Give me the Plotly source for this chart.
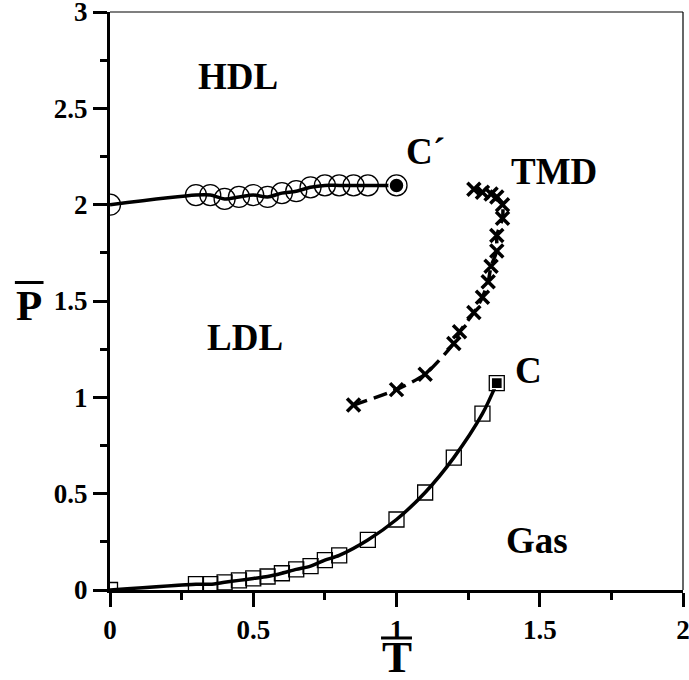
import plotly.graph_objects as go

# ---- data ----
hdl_T = [0.0, 0.30, 0.35, 0.40, 0.45, 0.50, 0.55, 0.60, 0.65, 0.70, 0.75, 0.80, 0.85, 0.90]
hdl_P = [2.00, 2.05, 2.05, 2.03, 2.04, 2.05, 2.04, 2.06, 2.07, 2.09, 2.10, 2.10, 2.10, 2.10]
cprime_T = [1.00]
cprime_P = [2.10]

gas_T = [0.0, 0.30, 0.35, 0.40, 0.45, 0.50, 0.55, 0.60, 0.65, 0.70, 0.75, 0.80, 0.90, 1.00, 1.10, 1.20, 1.30]
gas_P = [0.0, 0.03, 0.03, 0.04, 0.05, 0.06, 0.07, 0.087, 0.107, 0.124, 0.155, 0.18, 0.26, 0.366, 0.506, 0.687, 0.915]
c_T = [1.35]
c_P = [1.074]

tmd_T = [0.85, 1.00, 1.10, 1.20, 1.22, 1.27, 1.30, 1.32, 1.33, 1.35, 1.35, 1.37, 1.37, 1.35, 1.33, 1.30, 1.27]
tmd_P = [0.96, 1.04, 1.12, 1.28, 1.34, 1.44, 1.52, 1.60, 1.68, 1.76, 1.84, 1.93, 2.00, 2.04, 2.055, 2.065, 2.08]

region_labels = ["HDL", "C´", "TMD", "LDL", "C", "Gas"]
region_T = [0.447, 1.10, 1.55, 0.471, 1.462, 1.492]
region_P = [2.666, 2.277, 2.174, 1.313, 1.137, 0.259]

x_ticks = [0, 0.5, 1, 1.5, 2]
y_ticks = [0, 0.5, 1, 1.5, 2, 2.5, 3]

SERIF = "Liberation Serif, Times New Roman, serif"

fig = go.Figure()

# HDL-LDL coexistence line
fig.add_trace(go.Scatter(
    x=hdl_T + cprime_T, y=hdl_P + cprime_P, mode="lines",
    line=dict(color="black", width=3.5, shape="spline", smoothing=0.8),
    hoverinfo="skip"))
fig.add_trace(go.Scatter(
    x=hdl_T + cprime_T, y=hdl_P + cprime_P, mode="markers",
    marker=dict(symbol="circle-open", size=21, color="black", line=dict(width=1.3, color="black"))))
fig.add_trace(go.Scatter(
    x=cprime_T, y=cprime_P, mode="markers",
    marker=dict(symbol="circle", size=15, color="black", line=dict(width=1.5, color="white"))))

# Liquid-gas line
fig.add_trace(go.Scatter(
    x=gas_T + c_T, y=gas_P + c_P, mode="lines",
    line=dict(color="black", width=3.5, shape="spline", smoothing=0.8),
    hoverinfo="skip"))
fig.add_trace(go.Scatter(
    x=gas_T + c_T, y=gas_P + c_P, mode="markers",
    marker=dict(symbol="square-open", size=15, color="black", line=dict(width=1.3, color="black"))))
fig.add_trace(go.Scatter(
    x=c_T, y=c_P, mode="markers",
    marker=dict(symbol="square", size=11, color="black", line=dict(width=1.3, color="white"))))

# TMD line
fig.add_trace(go.Scatter(
    x=tmd_T, y=tmd_P, mode="lines+markers",
    line=dict(color="black", width=3.5, dash="14px,7px", shape="spline", smoothing=0.6),
    marker=dict(symbol="x-thin", size=13, color="black", line=dict(width=3.5, color="black"))))

for lab, tx, ty in zip(region_labels, region_T, region_P):
    fig.add_annotation(x=tx, y=ty, text=lab, showarrow=False, xref="x", yref="y",
                       font=dict(family=SERIF, size=37, color="black", weight="bold"),
                       xanchor="center", yanchor="middle")

# axis titles (T-bar and P-bar)
fig.add_annotation(x=0.501, y=-0.116, xref="paper", yref="paper", text="T", showarrow=False,
                   font=dict(family=SERIF, size=45, color="black", weight="bold"),
                   xanchor="center", yanchor="middle")
fig.add_annotation(x=-0.1414, y=0.492, xref="paper", yref="paper", text="P", showarrow=False,
                   font=dict(family=SERIF, size=43, color="black", weight="bold"),
                   xanchor="center", yanchor="middle")

fig.add_shape(type="line", xref="paper", yref="paper", x0=0.473, x1=0.527, y0=-0.083, y1=-0.083,
              line=dict(color="black", width=3))
fig.add_shape(type="line", xref="paper", yref="paper", x0=-0.166, x1=-0.116, y0=0.532, y1=0.532,
              line=dict(color="black", width=3))

# thin top/right frame
fig.add_shape(type="line", xref="paper", yref="paper", x0=0, x1=1, y0=1, y1=1,
              line=dict(color="black", width=1.2))
fig.add_shape(type="line", xref="paper", yref="paper", x0=1, x1=1, y0=0, y1=1,
              line=dict(color="black", width=1.2))

tickfont = dict(family=SERIF, size=27, color="black", weight="bold")
fig.update_xaxes(range=[0, 2], tickvals=x_ticks, ticktext=[f"{v:g}" for v in x_ticks],
                 showline=True, linewidth=3, linecolor="black",
                 ticks="outside", ticklen=14, tickwidth=3, tickcolor="black",
                 minor=dict(dtick=0.25, tick0=0, ticks="outside", ticklen=7, tickwidth=3, tickcolor="black"),
                 showgrid=False, zeroline=False, tickfont=tickfont,
                 ticklabeloverflow="allow", automargin=False)
fig.update_yaxes(range=[0, 3], tickvals=y_ticks, ticktext=[f"{v:g}" for v in y_ticks],
                 showline=True, linewidth=3, linecolor="black",
                 ticks="outside", ticklen=14, tickwidth=3, tickcolor="black",
                 minor=dict(dtick=0.25, tick0=0, ticks="outside", ticklen=7, tickwidth=3, tickcolor="black"),
                 showgrid=False, zeroline=False, tickfont=tickfont,
                 ticklabeloverflow="allow", automargin=False)

fig.update_layout(width=689, height=680, showlegend=False,
                  margin=dict(l=110, r=6, t=12, b=90),
                  plot_bgcolor="white", paper_bgcolor="white")

# remove the browser's default 8px body margin so the figure fills the window
fig.write_html("out.html", config={"displayModeBar": False},
               post_script="document.body.style.margin='0';document.body.style.overflow='hidden';")
